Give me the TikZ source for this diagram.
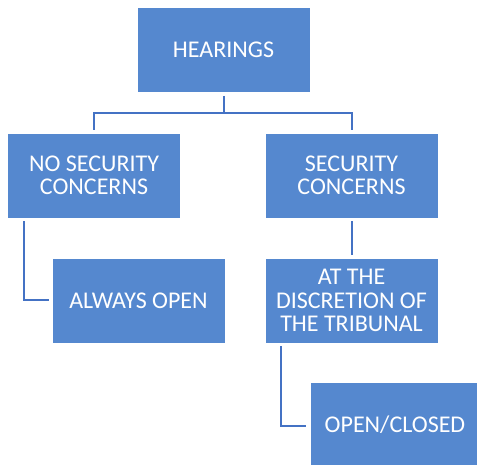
\documentclass[tikz,border=0pt]{standalone}
\usepackage{fontspec}
\setmainfont{Carlito}
\usepackage{xcolor}
\definecolor{boxblue}{RGB}{85,136,207}
\definecolor{lineblue}{RGB}{68,114,196}
\tikzset{
  box/.style={fill=boxblue, draw=white, line width=0.6pt, text=white,
    minimum width=173pt, minimum height=85pt, align=center, inner sep=2pt,
    font=\fontsize{24}{23.5}\selectfont},
  link/.style={draw=lineblue, line width=2pt}
}

\begin{document}
\begin{tikzpicture}[x=1pt,y=1pt]
\useasboundingbox (0,0) rectangle (477,465);

\node[box] (hear) at (223.5,415) {HEARINGS};
\node[box] (nosec) at (94,289.5) {NO SECURITY\\CONCERNS};
\node[box] (sec) at (351.5,289.5) {SECURITY\\CONCERNS};
\node[box] (always) at (138.5,164.5) {ALWAYS OPEN};
\node[box] (disc) at (351.5,164.5) {AT THE\\DISCRETION OF\\THE TRIBUNAL};
\node[box, minimum width=170pt] (open) at (395,40.5) {OPEN/CLOSED};

\draw[link] ([yshift=-3pt]hear.south) -- ++(0,-17) coordinate (mid);
\draw[link] (mid) -| ([yshift=3pt]nosec.north);
\draw[link] (mid) -| ([yshift=3pt]sec.north);
\draw[link] ([xshift=-70.5pt,yshift=-3pt]nosec.south) |- ([xshift=-3pt]always.west);
\draw[link] ([yshift=-3pt]sec.south) -- ([yshift=3pt]disc.north);
\draw[link] ([xshift=-70.5pt,yshift=-3pt]disc.south) |- ([xshift=-4pt,yshift=-2pt]open.west);
\end{tikzpicture}
\end{document}
